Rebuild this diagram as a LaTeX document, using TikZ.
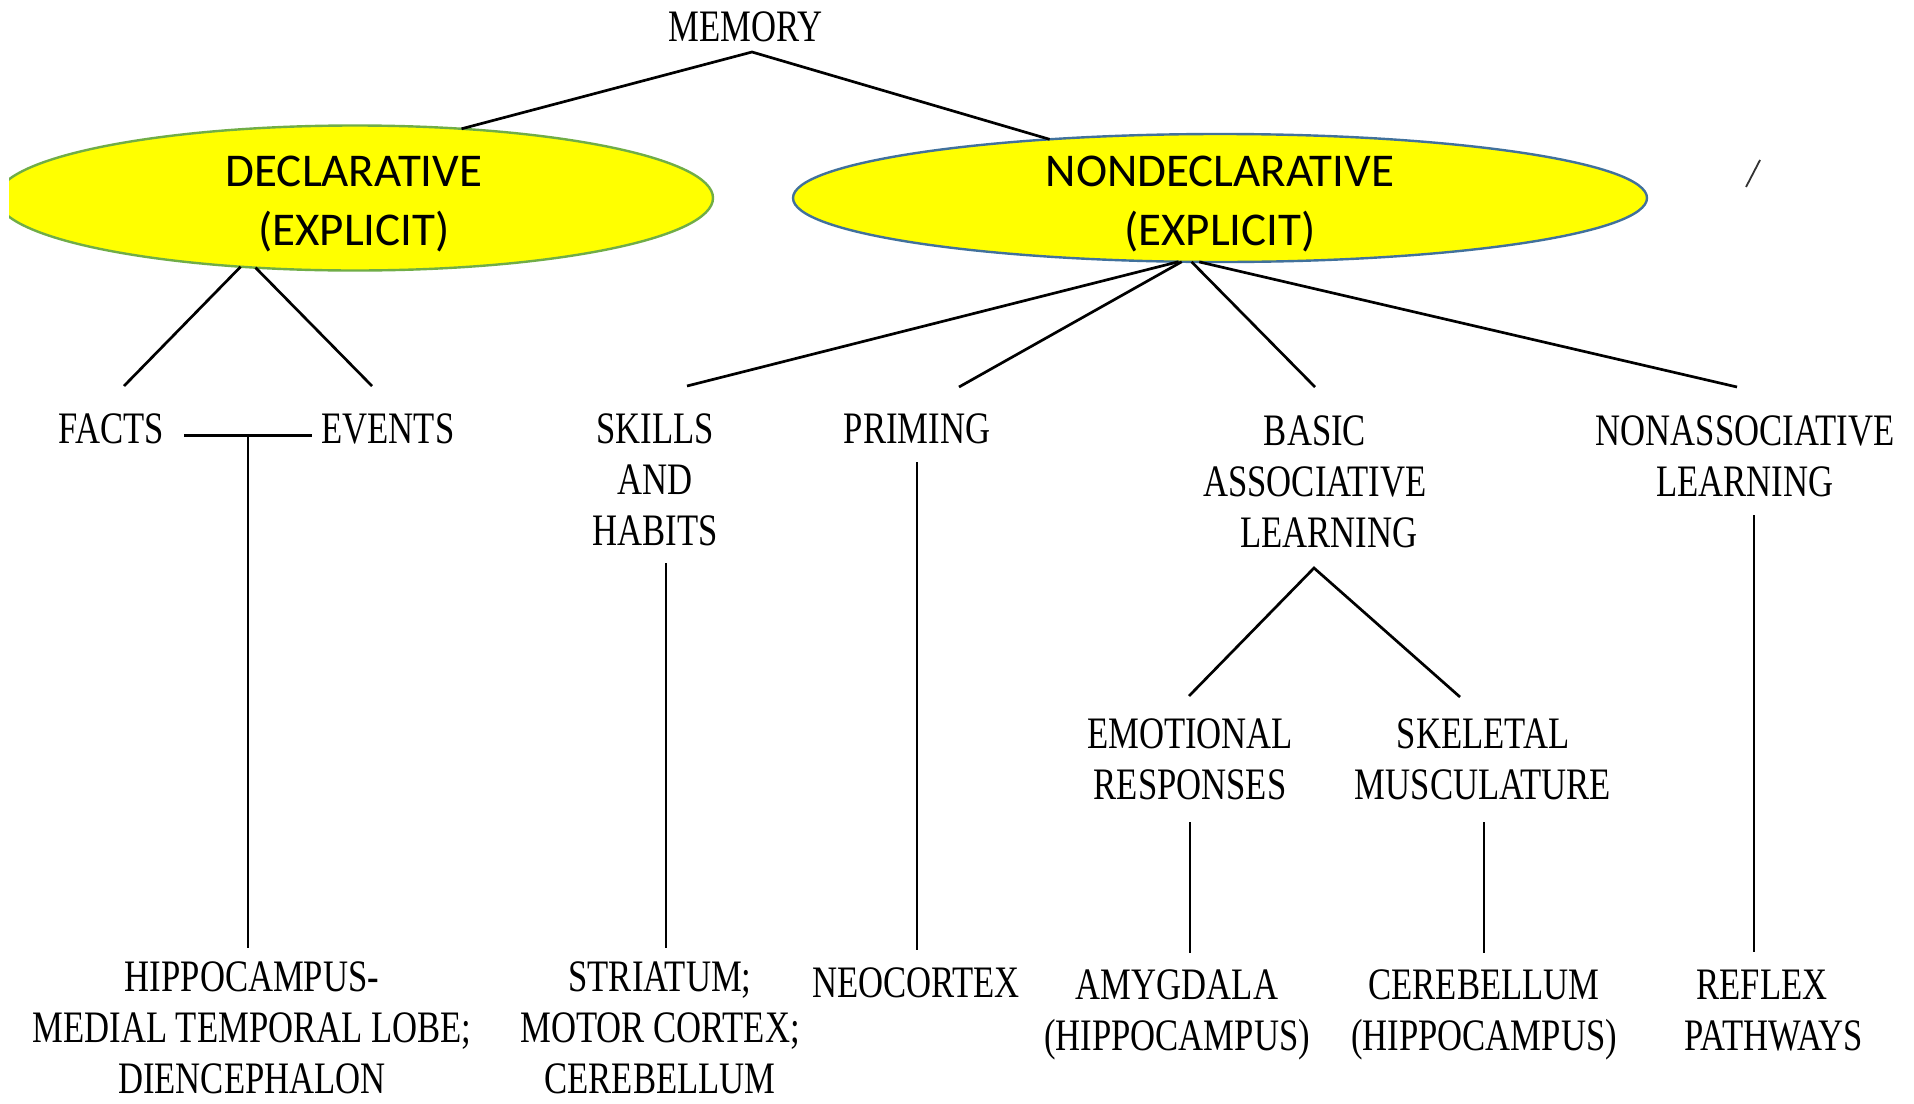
\documentclass[tikz,border=0pt]{standalone}
\usepackage{fontspec}
\usepackage{graphicx}
\setmainfont{Liberation Serif}
\newfontfamily\calib{Carlito}
\usetikzlibrary{shapes.geometric}
\definecolor{ellyellow}{RGB}{255,255,0}
\definecolor{declgreen}{RGB}{112,173,71}
\definecolor{nondblue}{RGB}{65,113,156}
\newcommand\cnd[1]{\scalebox{0.77}[1]{#1}}
\begin{document}
\begin{tikzpicture}[x=0.5pt,y=-0.5pt,
  lbl/.style={font=\fontsize{22.5}{25.5}\selectfont, align=center, inner sep=0pt, outer sep=0pt, anchor=north},
  elltxt/.style={font=\calib\fontsize{23.5}{29.5}\selectfont, align=center, inner sep=0pt, outer sep=0pt, anchor=north},
  bubble/.style={ellipse, fill=ellyellow, line width=1.2pt, inner sep=0pt, outer sep=0pt},
  conn/.style={line width=1.35pt, black},
  vconn/.style={line width=1.05pt, black}]
\fill[white] (0,0) rectangle (1914,1103);
\useasboundingbox (0,0) rectangle (1914,1103);

% ellipses
\begin{scope}
  \clip (9,0) rectangle (1914,1103);
  \node[bubble, draw=declgreen, minimum width=358pt, minimum height=72.5pt] (decl) at (355,198) {};
\end{scope}
\node[bubble, draw=nondblue, minimum width=427pt, minimum height=64pt] (nond) at (1220,198) {};
\node[elltxt] (decltxt) at (354,156) {DECLARATIVE\\(EXPLICIT)};
\node[elltxt] (nondtxt) at (1220,156) {NONDECLARATIVE\\(EXPLICIT)};

% labels
\node[lbl] (memory) at (746,12) {\cnd{MEMORY}};
\node[lbl] (facts) at (111,414) {\cnd{FACTS}};
\node[lbl] (events) at (388,414) {\cnd{EVENTS}};
\node[lbl] (skills) at (655,414) {\cnd{SKILLS}\\\cnd{AND}\\\cnd{HABITS}};
\node[lbl] (priming) at (917,414) {\cnd{PRIMING}};
\node[lbl] (basic) at (1315,416) {\cnd{BASIC}\\\cnd{ASSOCIATIVE}\\\hspace*{14pt}\cnd{LEARNING}};
\node[lbl] (nonassoc) at (1745,416) {\cnd{NONASSOCIATIVE}\\\cnd{LEARNING}};
\node[lbl] (emotional) at (1190,719) {\cnd{EMOTIONAL}\\\cnd{RESPONSES}};
\node[lbl] (skeletal) at (1483,719) {\cnd{SKELETAL}\\\cnd{MUSCULATURE}};
\node[lbl] (hippo) at (252,962) {\cnd{HIPPOCAMPUS-}\\\cnd{MEDIAL TEMPORAL LOBE;}\\\cnd{DIENCEPHALON}};
\node[lbl] (striatum) at (660,962) {\cnd{STRIATUM;}\\\cnd{MOTOR CORTEX;}\\\cnd{CEREBELLUM}};
\node[lbl] (neocortex) at (916,968) {\cnd{NEOCORTEX}};
\node[lbl] (amygdala) at (1177,970) {\cnd{AMYGDALA}\\\cnd{(HIPPOCAMPUS)}};
\node[lbl] (cerebellum) at (1484,970) {\cnd{CEREBELLUM}\\\cnd{(HIPPOCAMPUS)}};
\node[lbl] (reflex) at (1762,970) {\cnd{REFLEX}\\\hspace*{12pt}\cnd{PATHWAYS}};

% connector coordinates
\coordinate (memapex) at (752,52);
\coordinate (factsend) at (124,386);
\coordinate (eventsend) at (372,386);
\coordinate (skillsend) at (687,386);
\coordinate (primend) at (959,387);
\coordinate (basicend) at (1315,387);
\coordinate (nonassocend) at (1737,387);
\coordinate (feL) at (184,435);
\coordinate (feR) at (312,435);
\coordinate (feM) at (248,435);
\coordinate (hippotop) at (248,948);
\coordinate (skillsbot) at (666,563);
\coordinate (striatumtop) at (666,948);
\coordinate (primbot) at (917,462);
\coordinate (neotop) at (917,950);
\coordinate (basicapex) at (1314,568);
\coordinate (emotop) at (1189,696);
\coordinate (skeltop) at (1460,697);
\coordinate (emobot) at (1190,822);
\coordinate (amytop) at (1190,953);
\coordinate (skelbot) at (1484,822);
\coordinate (cerebtop) at (1484,953);
\coordinate (nonassocbot) at (1754,515);
\coordinate (reflextop) at (1754,952);
\coordinate (slashA) at (1760,160);
\coordinate (slashB) at (1746,187);

% connectors
\draw[conn] (decl.33.9) -- (memapex) -- (nond.161);
\draw[conn] (decl.211.1) -- (factsend);
\draw[conn] (decl.215.5) -- (eventsend);
\draw[conn] (nond.237.9) -- (skillsend);
\draw[conn] (nond.239.9) -- (primend);
\draw[conn] (nond.246.3) -- (basicend);
\draw[conn] (nond.252.6) -- (nonassocend);
\draw[line width=1.5pt] (feL) -- (feR);
\draw[vconn] (feM) -- (hippotop);
\draw[vconn] (skillsbot) -- (striatumtop);
\draw[vconn] (primbot) -- (neotop);
\draw[conn] (emotop) -- (basicapex) -- (skeltop);
\draw[vconn] (emobot) -- (amytop);
\draw[vconn] (skelbot) -- (cerebtop);
\draw[vconn] (nonassocbot) -- (reflextop);
\draw[line width=0.9pt, black!80] (slashA) -- (slashB);
\end{tikzpicture}
\end{document}
